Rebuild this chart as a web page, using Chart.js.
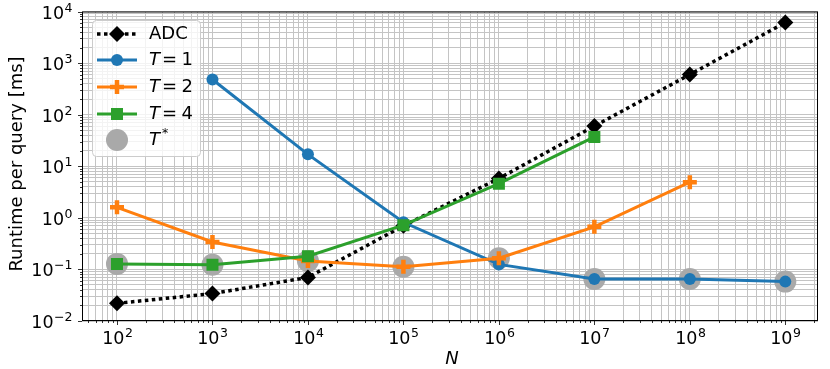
<!DOCTYPE html>
<html>
<head>
<meta charset="utf-8">
<script src="https://cdn.jsdelivr.net/npm/chart.js@4.4.1/dist/chart.umd.min.js"></script>
<style>
  html, body { margin: 0; padding: 0; background: #fff; }
</style>
</head>
<body>
<canvas id="runtimeChart" width="830" height="369"></canvas>
<script>
// data
const nValues = [1e2, 1e3, 1e4, 1e5, 1e6, 1e7, 1e8, 1e9];
const adcRuntime = [0.022, 0.034, 0.07, 0.7, 5.8, 60, 600, 6100];
const t1Runtime = [null, 480, 17, 0.82, 0.125, 0.065, 0.065, 0.058];
const t2Runtime = [1.6, 0.34, 0.146, 0.113, 0.165, 0.67, 4.9, null];
const t4Runtime = [0.128, 0.123, 0.18, 0.72, 4.6, 37, null, null];
const tStarRuntime = [0.128, 0.123, 0.146, 0.113, 0.165, 0.065, 0.065, 0.058];

const xRange = [43, 2.2e9];
const yRange = [0.01, 10000];

const FONT = "'DejaVu Sans'";
const TEXT_PX = 18;
const TICK_PX = 17.5;
const EXP_PX = 12.5;

function toPoints(ys) {
    return nValues.map((x, i) => ({ x: x, y: ys[i] }));
}

function isPow10(v) {
    const e = Math.log10(v);
    return Math.abs(e - Math.round(e)) < 1e-9;
}

// 1..9 x 10^e inside the axis range
function logTicks(scale) {
    const out = [];
    const lo = Math.floor(Math.log10(scale.min));
    const hi = Math.ceil(Math.log10(scale.max));
    for (let e = lo; e <= hi; e++) {
        for (let s = 1; s < 10; s++) {
            const v = s * Math.pow(10, e);
            if (v >= scale.min * 0.9999 && v <= scale.max * 1.0001) out.push({ value: v });
        }
    }
    scale.ticks = out;
}

// "10" with raised exponent, like mathtext
function drawPow(ctx, exp, x, baseY, align) {
    const expTxt = String(exp).replace("-", "\u2212");
    ctx.font = TICK_PX + "px " + FONT;
    const wb = ctx.measureText("10").width;
    ctx.font = EXP_PX + "px " + FONT;
    const we = ctx.measureText(expTxt).width;
    const total = wb + we + 0.5;
    let left = align === "right" ? x - total : x - total / 2;
    ctx.textAlign = "left";
    ctx.textBaseline = "alphabetic";
    ctx.font = TICK_PX + "px " + FONT;
    ctx.fillText("10", left, baseY);
    ctx.font = EXP_PX + "px " + FONT;
    ctx.fillText(expTxt, left + wb + 0.5, baseY - 7);
}

// =============================
// ticks, labels, legend, frame
// =============================
const axesAndLegend = {
    id: "axesAndLegend",
    afterDraw(chart) {
        const ctx = chart.ctx;
        const a = chart.chartArea;
        const xs = chart.scales.x;
        const ys = chart.scales.y;
        ctx.save();
        ctx.strokeStyle = "#000";
        ctx.lineWidth = 1;
        ctx.strokeRect(a.left + 0.5, a.top + 0.5, a.right - a.left - 1, a.bottom - a.top - 1);

        // tick marks and labels
        ctx.fillStyle = "#000";
        ctx.lineWidth = 0.8;
        xs.ticks.forEach(t => {
            const px = Math.round(xs.getPixelForValue(t.value)) + 0.5;
            const major = isPow10(t.value);
            ctx.beginPath();
            ctx.moveTo(px, a.bottom);
            ctx.lineTo(px, a.bottom + (major ? 4 : 2));
            ctx.stroke();
            if (major) drawPow(ctx, Math.round(Math.log10(t.value)), px, 343.5, "center");
        });
        ys.ticks.forEach(t => {
            const py = Math.round(ys.getPixelForValue(t.value)) + 0.5;
            const major = isPow10(t.value);
            ctx.beginPath();
            ctx.moveTo(a.left, py);
            ctx.lineTo(a.left - (major ? 4 : 2), py);
            ctx.stroke();
            if (major) drawPow(ctx, Math.round(Math.log10(t.value)), a.left - 9.5, py + 6.5, "right");
        });

        // axis titles
        ctx.textAlign = "center";
        ctx.textBaseline = "middle";
        ctx.font = "italic " + TEXT_PX + "px " + FONT;
        ctx.fillText("N", 452, 359);
        ctx.save();
        ctx.translate(17, 164);
        ctx.rotate(-Math.PI / 2);
        ctx.font = TEXT_PX + "px " + FONT;
        ctx.fillText("Runtime per query [ms]", 0, 0);
        ctx.restore();

        // legend box
        const bx = 92, by = 20, bw = 108, bh = 136, r = 4;
        ctx.fillStyle = "rgba(255,255,255,0.8)";
        ctx.strokeStyle = "#cccccc";
        ctx.lineWidth = 1;
        ctx.beginPath();
        ctx.roundRect(bx + 0.5, by + 0.5, bw, bh, r);
        ctx.fill();
        ctx.stroke();

        const rows = [34, 60, 87, 114, 140];
        chart.data.datasets.forEach((ds, i) => {
            const y = rows[i];
            if (ds.showLine !== false) {
                ctx.save();
                ctx.strokeStyle = ds.borderColor;
                ctx.lineWidth = ds.borderWidth;
                ctx.setLineDash(ds.borderDash || []);
                ctx.beginPath();
                ctx.moveTo(97, y);
                ctx.lineTo(137, y);
                ctx.stroke();
                ctx.restore();
            }
            ctx.fillStyle = ds.pointBackgroundColor;
            ctx.strokeStyle = ds.pointBorderColor;
            ctx.lineWidth = ds.pointBorderWidth;
            ctx.setLineDash([]);
            Chart.helpers.drawPoint(ctx, {
                pointStyle: ds.pointStyle, radius: ds.pointRadius, rotation: 0, borderWidth: ds.pointBorderWidth
            }, 117, y);

            // label text
            ctx.fillStyle = "#000";
            ctx.textBaseline = "middle";
            ctx.textAlign = "left";
            const lab = ds.label;
            if (lab.startsWith("T")) {
                ctx.font = "italic " + TEXT_PX + "px " + FONT;
                ctx.fillText("T", 149, y);
                const w = ctx.measureText("T").width;
                if (lab === "T*") {
                    ctx.font = EXP_PX + "px " + FONT;
                    ctx.fillText("*", 149 + w + 2, y - 6);
                } else {
                    ctx.font = TEXT_PX + "px " + FONT;
                    ctx.fillText("=", 162, y);
                    ctx.fillText(lab.slice(2), 181.5, y);
                }
            } else {
                ctx.font = TEXT_PX + "px " + FONT;
                ctx.fillText(lab, 149, y);
            }
        });
        ctx.restore();
    }
};

const gridOpts = {
    color: "#c4c4c4",
    lineWidth: 1,
    drawTicks: false
};

const chart = new Chart(document.getElementById("runtimeChart"), {
    type: "line",
    data: {
        datasets: [
            {
                label: "ADC",
                data: toPoints(adcRuntime),
                borderColor: "#000000",
                borderWidth: 3.5,
                borderDash: [3.5, 3.5],
                pointStyle: "rectRot",
                pointRadius: 8,
                pointBackgroundColor: "#000000",
                pointBorderColor: "#000000",
                pointBorderWidth: 0,
                order: 3
            },
            {
                label: "T=1",
                data: toPoints(t1Runtime),
                borderColor: "#1f77b4",
                borderWidth: 3,
                pointStyle: "circle",
                pointRadius: 6,
                pointBackgroundColor: "#1f77b4",
                pointBorderColor: "#1f77b4",
                pointBorderWidth: 0,
                order: 2
            },
            {
                label: "T=2",
                data: toPoints(t2Runtime),
                borderColor: "#ff7f0e",
                borderWidth: 3,
                pointStyle: "cross",
                pointRadius: 7,
                pointBackgroundColor: "#ff7f0e",
                pointBorderColor: "#ff7f0e",
                pointBorderWidth: 4.5,
                order: 1
            },
            {
                label: "T=4",
                data: toPoints(t4Runtime),
                borderColor: "#2ca02c",
                borderWidth: 3,
                pointStyle: "rect",
                pointRadius: 8.5,
                pointBackgroundColor: "#2ca02c",
                pointBorderColor: "#2ca02c",
                pointBorderWidth: 0,
                order: 0
            },
            {
                label: "T*",
                data: toPoints(tStarRuntime),
                showLine: false,
                borderColor: "#a9a9a9",
                borderWidth: 0,
                pointStyle: "circle",
                pointRadius: 11,
                pointBackgroundColor: "#a9a9a9",
                pointBorderColor: "#a9a9a9",
                pointBorderWidth: 0,
                order: 4
            }
        ]
    },
    options: {
        responsive: false,
        animation: false,
        layout: { padding: { top: 11, right: 12, left: 0, bottom: 0 } },
        plugins: {
            legend: { display: false },
            tooltip: { enabled: false }
        },
        elements: { line: { tension: 0 } },
        scales: {
            x: {
                type: "logarithmic",
                min: xRange[0],
                max: xRange[1],
                afterBuildTicks: logTicks,
                afterFit: s => { s.height = 48; },
                grid: gridOpts,
                border: { display: false },
                ticks: { display: false, autoSkip: false }
            },
            y: {
                type: "logarithmic",
                min: yRange[0],
                max: yRange[1],
                afterBuildTicks: logTicks,
                afterFit: s => { s.width = 82; },
                grid: gridOpts,
                border: { display: false },
                ticks: { display: false, autoSkip: false }
            }
        }
    },
    plugins: [axesAndLegend]
});
</script>
</body>
</html>
